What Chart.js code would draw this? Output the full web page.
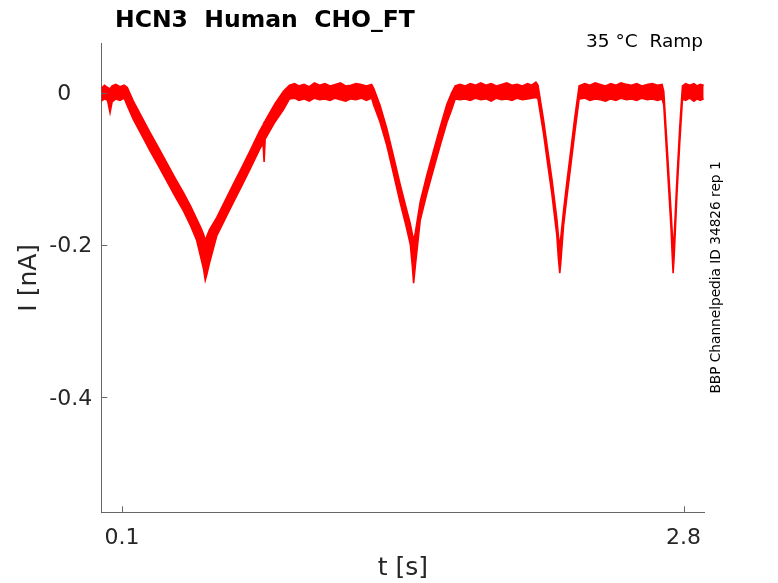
<!DOCTYPE html>
<html>
<head>
<meta charset="utf-8">
<script src="https://cdn.jsdelivr.net/npm/chart.js@4.4.1/dist/chart.umd.min.js"></script>
<style>
  html, body { margin: 0; padding: 0; background: #ffffff; }
  canvas { display: block; }
</style>
</head>
<body>
<canvas id="c" width="778" height="583"></canvas>
<script>
// ---- data ----
const titleText = 'HCN3  Human  CHO_FT';
const conditionText = '35 \u00B0C  Ramp';
const sideText = 'BBP Channelpedia ID 34826 rep 1';
const xAxisLabel = 't [s]';
const yAxisLabel = 'I [nA]';

const xTicks = [0.1, 2.8];
const xTickLabels = ['0.1', '2.8'];
const yTicks = [-0.4, -0.2, 0];
const yTickLabels = ['-0.4', '-0.2', '0   '];

// time (s) and the upper / lower edge of the noisy current trace (nA)
const timeS = [
  0.000, 0.015, 0.030, 0.042, 0.052, 0.070, 0.090, 0.110,
  0.125, 0.154, 0.195, 0.234, 0.275, 0.315, 0.355, 0.395, 0.430, 0.459, 0.480, 0.492, 0.500, 0.508,
  0.520, 0.555, 0.595, 0.635, 0.676, 0.716, 0.760, 0.778, 0.783, 0.788, 0.796, 0.836, 0.876, 0.905,
  0.930, 0.950, 0.975, 1.000, 1.025, 1.050, 1.075, 1.100, 1.125, 1.150, 1.175, 1.200, 1.225, 1.250, 1.275, 1.300,
  1.310, 1.340, 1.373, 1.405, 1.437, 1.465, 1.486, 1.496, 1.502, 1.510, 1.534, 1.566, 1.598, 1.630, 1.662, 1.685, 1.702,
  1.725, 1.750, 1.775, 1.800, 1.825, 1.850, 1.875, 1.900, 1.925, 1.950, 1.975, 2.000, 2.025, 2.050, 2.070, 2.090,
  2.100, 2.127, 2.147, 2.167, 2.191, 2.199, 2.205, 2.210, 2.223, 2.240, 2.256, 2.276, 2.298,
  2.325, 2.350, 2.375, 2.400, 2.425, 2.450, 2.475, 2.500, 2.525, 2.550, 2.575, 2.600, 2.625, 2.650, 2.675, 2.697,
  2.705, 2.721, 2.740, 2.746, 2.750, 2.755, 2.769, 2.782, 2.795,
  2.810, 2.830, 2.850, 2.865, 2.880, 2.897
];
const upperNA = [
  0.006, 0.010, 0.007, 0.005, 0.009, 0.011, 0.008, 0.010,
  0.007, -0.011, -0.032, -0.052, -0.072, -0.092, -0.112, -0.131, -0.149, -0.166, -0.178, -0.186, -0.194, -0.188,
  -0.180, -0.164, -0.142, -0.120, -0.098, -0.076, -0.051, -0.042, -0.039, -0.037, -0.033, -0.014, 0.002, 0.010,
  0.012, 0.009, 0.011, 0.008, 0.013, 0.010, 0.012, 0.009, 0.011, 0.013, 0.009, 0.010, 0.012, 0.011, 0.009, 0.011,
  0.006, -0.016, -0.047, -0.083, -0.120, -0.150, -0.172, -0.186, -0.194, -0.184, -0.143, -0.108, -0.076, -0.045, -0.015, 0.000, 0.009,
  0.011, 0.009, 0.012, 0.010, 0.013, 0.010, 0.012, 0.009, 0.011, 0.013, 0.010, 0.011, 0.009, 0.012, 0.010, 0.014,
  0.010, -0.036, -0.075, -0.113, -0.166, -0.190, -0.202, -0.190, -0.155, -0.115, -0.080, -0.035, 0.009,
  0.012, 0.010, 0.013, 0.011, 0.009, 0.012, 0.010, 0.013, 0.011, 0.010, 0.012, 0.009, 0.011, 0.012, 0.010, 0.011,
  0.002, -0.070, -0.156, -0.185, -0.202, -0.190, -0.110, -0.045, 0.009,
  0.012, 0.010, 0.012, 0.009, 0.011, 0.010
];
const lowerNA = [
  -0.011, -0.008, -0.010, -0.026, -0.012, -0.008, -0.010, -0.007,
  -0.017, -0.035, -0.056, -0.076, -0.096, -0.116, -0.136, -0.155, -0.175, -0.194, -0.218, -0.232, -0.246, -0.238,
  -0.224, -0.188, -0.166, -0.144, -0.122, -0.100, -0.075, -0.066, -0.091, -0.061, -0.057, -0.038, -0.022, -0.008,
  -0.007, -0.010, -0.008, -0.011, -0.007, -0.009, -0.008, -0.010, -0.007, -0.009, -0.011, -0.008, -0.009, -0.007, -0.010, -0.007,
  -0.016, -0.038, -0.069, -0.106, -0.144, -0.174, -0.199, -0.228, -0.250, -0.228, -0.167, -0.132, -0.100, -0.069, -0.039, -0.022, -0.008,
  -0.009, -0.008, -0.010, -0.007, -0.009, -0.008, -0.011, -0.007, -0.009, -0.008, -0.010, -0.007, -0.009, -0.008, -0.007, -0.006,
  -0.008, -0.054, -0.094, -0.133, -0.188, -0.220, -0.237, -0.222, -0.175, -0.135, -0.100, -0.055, -0.008,
  -0.007, -0.010, -0.008, -0.009, -0.011, -0.008, -0.010, -0.007, -0.009, -0.008, -0.010, -0.007, -0.009, -0.008, -0.010, -0.008,
  -0.016, -0.090, -0.178, -0.215, -0.237, -0.215, -0.130, -0.065, -0.008,
  -0.010, -0.007, -0.011, -0.008, -0.010, -0.008
];

// ---- chart ----
const FONT = "'DejaVu Sans', 'Liberation Sans', sans-serif";
const TXT = '#262626';
const AX = '#666666';
const RED = '#ff0000';

const upperPts = timeS.map((t, i) => ({ x: t, y: upperNA[i] }));
const lowerPts = timeS.map((t, i) => ({ x: t, y: lowerNA[i] }));

const decorPlugin = {
  id: 'decor',
  afterDraw(chart) {
    const ctx = chart.ctx;
    const xs = chart.scales.x, ys = chart.scales.y;
    const a = chart.chartArea;
    ctx.save();
    // inward tick marks
    ctx.strokeStyle = AX;
    ctx.lineWidth = 1;
    ctx.beginPath();
    xTicks.forEach(v => {
      const px = Math.round(xs.getPixelForValue(v)) + 0.5;
      ctx.moveTo(px, a.bottom);
      ctx.lineTo(px, a.bottom - 6);
    });
    yTicks.forEach(v => {
      const py = Math.round(ys.getPixelForValue(v)) + 0.5;
      ctx.moveTo(a.left, py);
      ctx.lineTo(a.left + 6, py);
    });
    ctx.stroke();

    // title
    ctx.fillStyle = '#000000';
    ctx.font = "bold 23.5px " + FONT;
    ctx.textAlign = 'left';
    ctx.textBaseline = 'alphabetic';
    ctx.fillText(titleText, 115, 27);

    // condition text
    ctx.font = "18.5px " + FONT;
    ctx.textAlign = 'right';
    ctx.fillText(conditionText, 703, 47);

    // rotated side text
    ctx.translate(720, 277.5);
    ctx.rotate(-Math.PI / 2);
    ctx.font = "13.7px " + FONT;
    ctx.textAlign = 'center';
    ctx.textBaseline = 'alphabetic';
    ctx.fillText(sideText, 0, 0);
    ctx.restore();
  }
};

new Chart(document.getElementById('c'), {
  type: 'line',
  data: {
    datasets: [
      {
        data: upperPts,
        borderColor: RED,
        backgroundColor: RED,
        borderWidth: 1.6,
        pointRadius: 0,
        tension: 0,
        fill: false
      },
      {
        data: lowerPts,
        borderColor: RED,
        backgroundColor: RED,
        borderWidth: 1.6,
        pointRadius: 0,
        tension: 0,
        fill: '-1'
      }
    ]
  },
  options: {
    responsive: false,
    animation: false,
    events: [],
    layout: { padding: { top: 43.3, right: 73.7, left: 0, bottom: 0 } },
    plugins: {
      legend: { display: false },
      tooltip: { enabled: false },
      title: { display: false }
    },
    scales: {
      x: {
        type: 'linear',
        min: 0,
        max: 2.9,
        afterBuildTicks: s => { s.ticks = xTicks.map(v => ({ value: v })); },
        afterFit: s => { s.height = 70.7; },
        grid: { display: false, drawTicks: false },
        border: { display: true, color: AX, width: 1 },
        ticks: {
          autoSkip: false,
          maxRotation: 0,
          padding: 13,
          color: TXT,
          font: { family: FONT, size: 22 },
          callback: v => xTickLabels[xTicks.indexOf(v)]
        },
        title: {
          display: true,
          text: xAxisLabel,
          color: TXT,
          font: { family: FONT, size: 25 },
          padding: { top: 0, bottom: 0 }
        }
      },
      y: {
        type: 'linear',
        min: -0.551,
        max: 0.065,
        afterBuildTicks: s => { s.ticks = yTicks.map(v => ({ value: v })); },
        afterFit: s => { s.width = 101.3; },
        grid: { display: false, drawTicks: false },
        border: { display: true, color: AX, width: 1 },
        ticks: {
          autoSkip: false,
          padding: 9,
          labelOffset: 1.5,
          color: TXT,
          font: { family: FONT, size: 22 },
          callback: v => yTickLabels[yTicks.indexOf(v)]
        },
        title: {
          display: true,
          text: yAxisLabel,
          color: TXT,
          font: { family: FONT, size: 25 },
          padding: { top: 14, bottom: 0 }
        }
      }
    }
  },
  plugins: [decorPlugin]
});
</script>
</body>
</html>
